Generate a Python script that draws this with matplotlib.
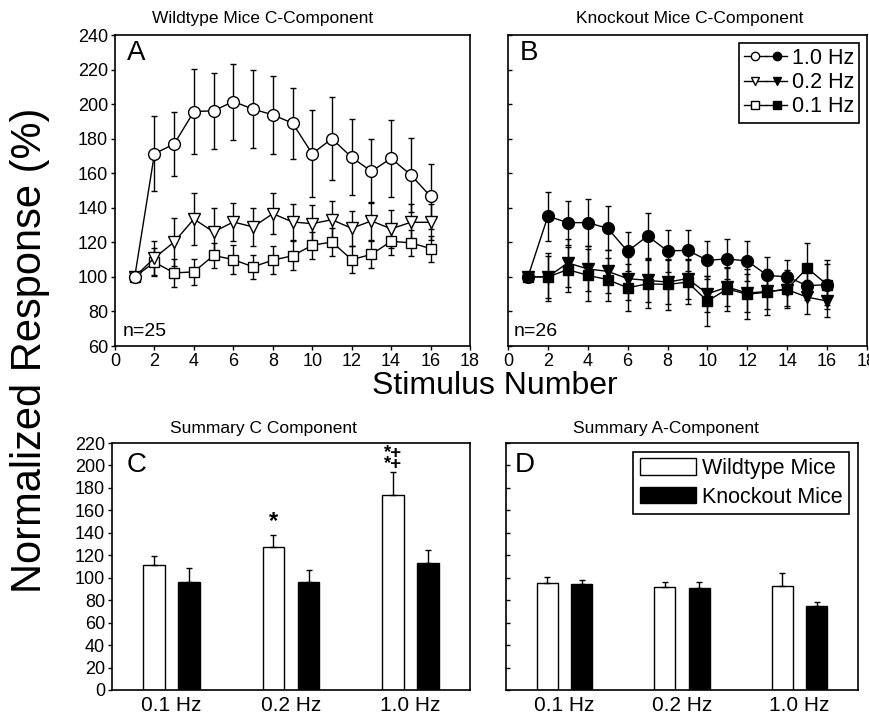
import numpy as np
import matplotlib
matplotlib.use('Agg')
import matplotlib.pyplot as plt
from matplotlib.lines import Line2D
from matplotlib.legend_handler import HandlerTuple

plt.rcParams['font.family'] = ['Liberation Sans', 'DejaVu Sans']

# stimulus number 1..16
stim = np.arange(1, 17)

# wildtype, C-component (panel A)
wt_10 = [100, 171.3, 176.9, 195.7, 196.1, 201.5, 197.1, 193.8, 189.0, 171.3, 180.0, 169.2, 161.1, 168.6, 159.0, 146.6]
wt_10_err = [0, 21.7, 18.5, 24.6, 22, 22, 22.7, 22.6, 20.5, 25.3, 24, 22, 18.5, 22.2, 21.5, 19]
wt_02 = [100, 111, 120.2, 133.5, 126, 131.8, 128.9, 136.6, 131.8, 130.8, 133.1, 128.1, 132.4, 127.8, 131.6, 131.6]
wt_02_err = [0, 10, 14, 15, 14, 11, 11, 11.7, 10.5, 11, 10.7, 10, 11, 11, 10.5, 10.5]
wt_01 = [100, 108.5, 102.3, 102.9, 112.4, 110, 105.8, 109.7, 112.2, 118.3, 120.2, 110, 113, 120.6, 119.7, 116.4]
wt_01_err = [0, 8, 8, 7.5, 7.5, 8.5, 7, 8, 8.5, 7.7, 8, 8, 7.8, 8, 7.6, 7.5]

# knockout, C-component (panel B)
ko_10 = [100, 135.1, 131.4, 131.4, 128.1, 114.8, 123.7, 115, 115.4, 109.6, 110.4, 109.2, 100.9, 100, 94.9, 95.5]
ko_10_err = [0, 14.2, 12.8, 13.5, 12.7, 11.3, 13, 12, 11.8, 11, 11.6, 11.6, 10.6, 10, 8, 12]
ko_02 = [100, 100, 108.1, 104.6, 103.2, 99, 98, 97, 99, 90.2, 94.1, 90.6, 91.6, 92.6, 88.3, 86]
ko_02_err = [0, 12, 13.7, 13, 12.6, 12.4, 12.5, 12.6, 11.6, 10.6, 11, 11.1, 10, 9.5, 10, 9.5]
ko_01 = [100, 100, 104.2, 100.9, 98.4, 93.7, 96, 95.6, 97, 86, 93, 89.9, 91.2, 93.1, 105.1, 95.5]
ko_01_err = [0, 14, 13, 15, 12.5, 13.5, 14, 14.5, 12.5, 14.5, 12.6, 14.5, 13.5, 11, 14.5, 14]

# summary bars (panels C and D)
freqs = ['0.1 Hz', '0.2 Hz', '1.0 Hz']
c_wt = [111, 127.5, 174]
c_wt_err = [8, 10.5, 20.5]
c_ko = [96, 96.5, 113.3]
c_ko_err = [12.6, 10, 11.2]
d_wt = [95.5, 91.4, 92.5]
d_wt_err = [5.3, 5, 11.9]
d_ko = [94.6, 91.1, 75]
d_ko_err = [3, 4.7, 3.3]

W, H = 869, 718
fig = plt.figure(figsize=(W / 100, H / 100), dpi=100)


def rect(x0, y0, x1, y1):
    # pixel box (top-left origin) -> figure fraction
    return [x0 / W, 1 - y1 / H, (x1 - x0) / W, (y1 - y0) / H]


axA = fig.add_axes(rect(115, 35, 470, 346))
axB = fig.add_axes(rect(508, 35, 867, 346))
axC = fig.add_axes(rect(112, 443, 470, 690))
axD = fig.add_axes(rect(506, 443, 858, 690))

for ax in (axA, axB, axC, axD):
    for s in ax.spines.values():
        s.set_linewidth(1.2)

eb_kw = dict(color='k', lw=1.0, elinewidth=1.0, capsize=2.2, capthick=1.0)

# panel A - open symbols
axA.errorbar(stim, wt_01, yerr=wt_01_err, fmt='-s', ms=7, mfc='white', mec='k', mew=1.0, **eb_kw)
axA.errorbar(stim, wt_02, yerr=wt_02_err, fmt='-v', ms=8, mfc='white', mec='k', mew=1.0, **eb_kw)
axA.errorbar(stim, wt_10, yerr=wt_10_err, fmt='-o', ms=8.5, mfc='white', mec='k', mew=1.0, **eb_kw)

# panel B - filled symbols
axB.errorbar(stim, ko_02, yerr=ko_02_err, fmt='-v', ms=8, mfc='k', mec='k', **eb_kw)
axB.errorbar(stim, ko_01, yerr=ko_01_err, fmt='-s', ms=7, mfc='k', mec='k', **eb_kw)
axB.errorbar(stim, ko_10, yerr=ko_10_err, fmt='-o', ms=8.5, mfc='k', mec='k', **eb_kw)

for ax in (axA, axB):
    ax.set_xlim(0, 18)
    ax.set_ylim(60, 240)
    ax.set_xticks(np.arange(0, 19, 2))
    ax.set_yticks(np.arange(60, 241, 20))
    ax.tick_params(labelsize=13, length=3, width=1, pad=2)
axB.tick_params(axis='y', direction='in', labelleft=False)

axA.text(0.034, 0.985, 'A', transform=axA.transAxes, fontsize=20, va='top')
axB.text(0.033, 0.985, 'B', transform=axB.transAxes, fontsize=20, va='top')
axA.text(0.022, 0.02, 'n=25', transform=axA.transAxes, fontsize=14, va='bottom')
axB.text(0.017, 0.02, 'n=26', transform=axB.transAxes, fontsize=14, va='bottom')

h10 = (Line2D([], [], color='k', lw=1, marker='o', ms=6, mfc='white', mec='k'),
       Line2D([], [], color='k', lw=1, marker='o', ms=6, mfc='k'))
h02 = (Line2D([], [], color='k', lw=1, marker='v', ms=6, mfc='white', mec='k'),
       Line2D([], [], color='k', lw=1, marker='v', ms=6, mfc='k'))
h01 = (Line2D([], [], color='k', lw=1, marker='s', ms=5.5, mfc='white', mec='k'),
       Line2D([], [], color='k', lw=1, marker='s', ms=5.5, mfc='k'))
legB = axB.legend([h10, h02, h01], ['1.0 Hz', '0.2 Hz', '0.1 Hz'],
                  handler_map={tuple: HandlerTuple(ndivide=None, pad=0)},
                  loc='upper right', fontsize=15.5, frameon=True, fancybox=False,
                  edgecolor='k', framealpha=1, handlelength=2.0, handletextpad=0.2,
                  labelspacing=0.15, borderpad=0.25, borderaxespad=0.35)
legB.get_frame().set_linewidth(1.2)

# panels C and D - bars
grp = np.arange(3) + 0.5
off = 0.147
bw = 0.18
bar_err = dict(ecolor='k', capsize=2.5, error_kw=dict(elinewidth=1.0, capthick=1.0))
for ax, wt, wte, ko, koe in ((axC, c_wt, c_wt_err, c_ko, c_ko_err),
                             (axD, d_wt, d_wt_err, d_ko, d_ko_err)):
    ax.bar(grp - off, wt, bw, yerr=[np.zeros(3), wte], color='white', edgecolor='k',
           linewidth=1.0, label='Wildtype Mice', **bar_err)
    ax.bar(grp + off, ko, bw, yerr=[np.zeros(3), koe], color='k', edgecolor='k',
           linewidth=1.0, label='Knockout Mice', **bar_err)
    ax.set_xlim(0, 3)
    ax.set_ylim(0, 220)
    ax.set_yticks(np.arange(0, 221, 20))
    ax.set_xticks(grp)
    ax.set_xticklabels(freqs)
    ax.tick_params(axis='x', length=0, labelsize=15, pad=4)
    ax.tick_params(axis='y', labelsize=13, length=3, width=1, pad=2)
axD.tick_params(axis='y', direction='in', labelleft=False)

axC.text(0.042, 0.965, 'C', transform=axC.transAxes, fontsize=20, va='top')
axD.text(0.025, 0.965, 'D', transform=axD.transAxes, fontsize=20, va='top')

# significance marks
axC.text(grp[1] - off, c_wt[1] + c_wt_err[1] + 2, '*', ha='center', va='bottom',
         fontsize=17, fontweight='bold')
axC.text(grp[2] - off, c_wt[2] + c_wt_err[2] - 1.5, '*+\n*+', ha='center', va='bottom',
         fontsize=13.5, fontweight='bold', linespacing=0.6)

legD = axD.legend(loc='upper right', fontsize=15.5, frameon=True, fancybox=False,
                  edgecolor='k', framealpha=1, handlelength=2.6, handleheight=0.8,
                  handletextpad=0.3, labelspacing=0.35, borderpad=0.3, borderaxespad=0.4)
legD.get_frame().set_linewidth(1.2)

# titles and shared labels
fig.text(263 / W, 1 - 18 / H, 'Wildtype Mice C-Component', ha='center', va='center', fontsize=12.5)
fig.text(690 / W, 1 - 18 / H, 'Knockout Mice C-Component', ha='center', va='center', fontsize=12.5)
fig.text(263 / W, 1 - 428 / H, 'Summary C Component', ha='center', va='center', fontsize=12.5)
fig.text(666 / W, 1 - 428 / H, 'Summary A-Component', ha='center', va='center', fontsize=12.5)
fig.text(495 / W, 1 - 386 / H, 'Stimulus Number', ha='center', va='center', fontsize=23)
fig.text(30 / W, 1 - 350 / H, 'Normalized Response (%)', ha='center', va='center',
         rotation=90, fontsize=30)

fig.savefig('out.png', dpi=100)
